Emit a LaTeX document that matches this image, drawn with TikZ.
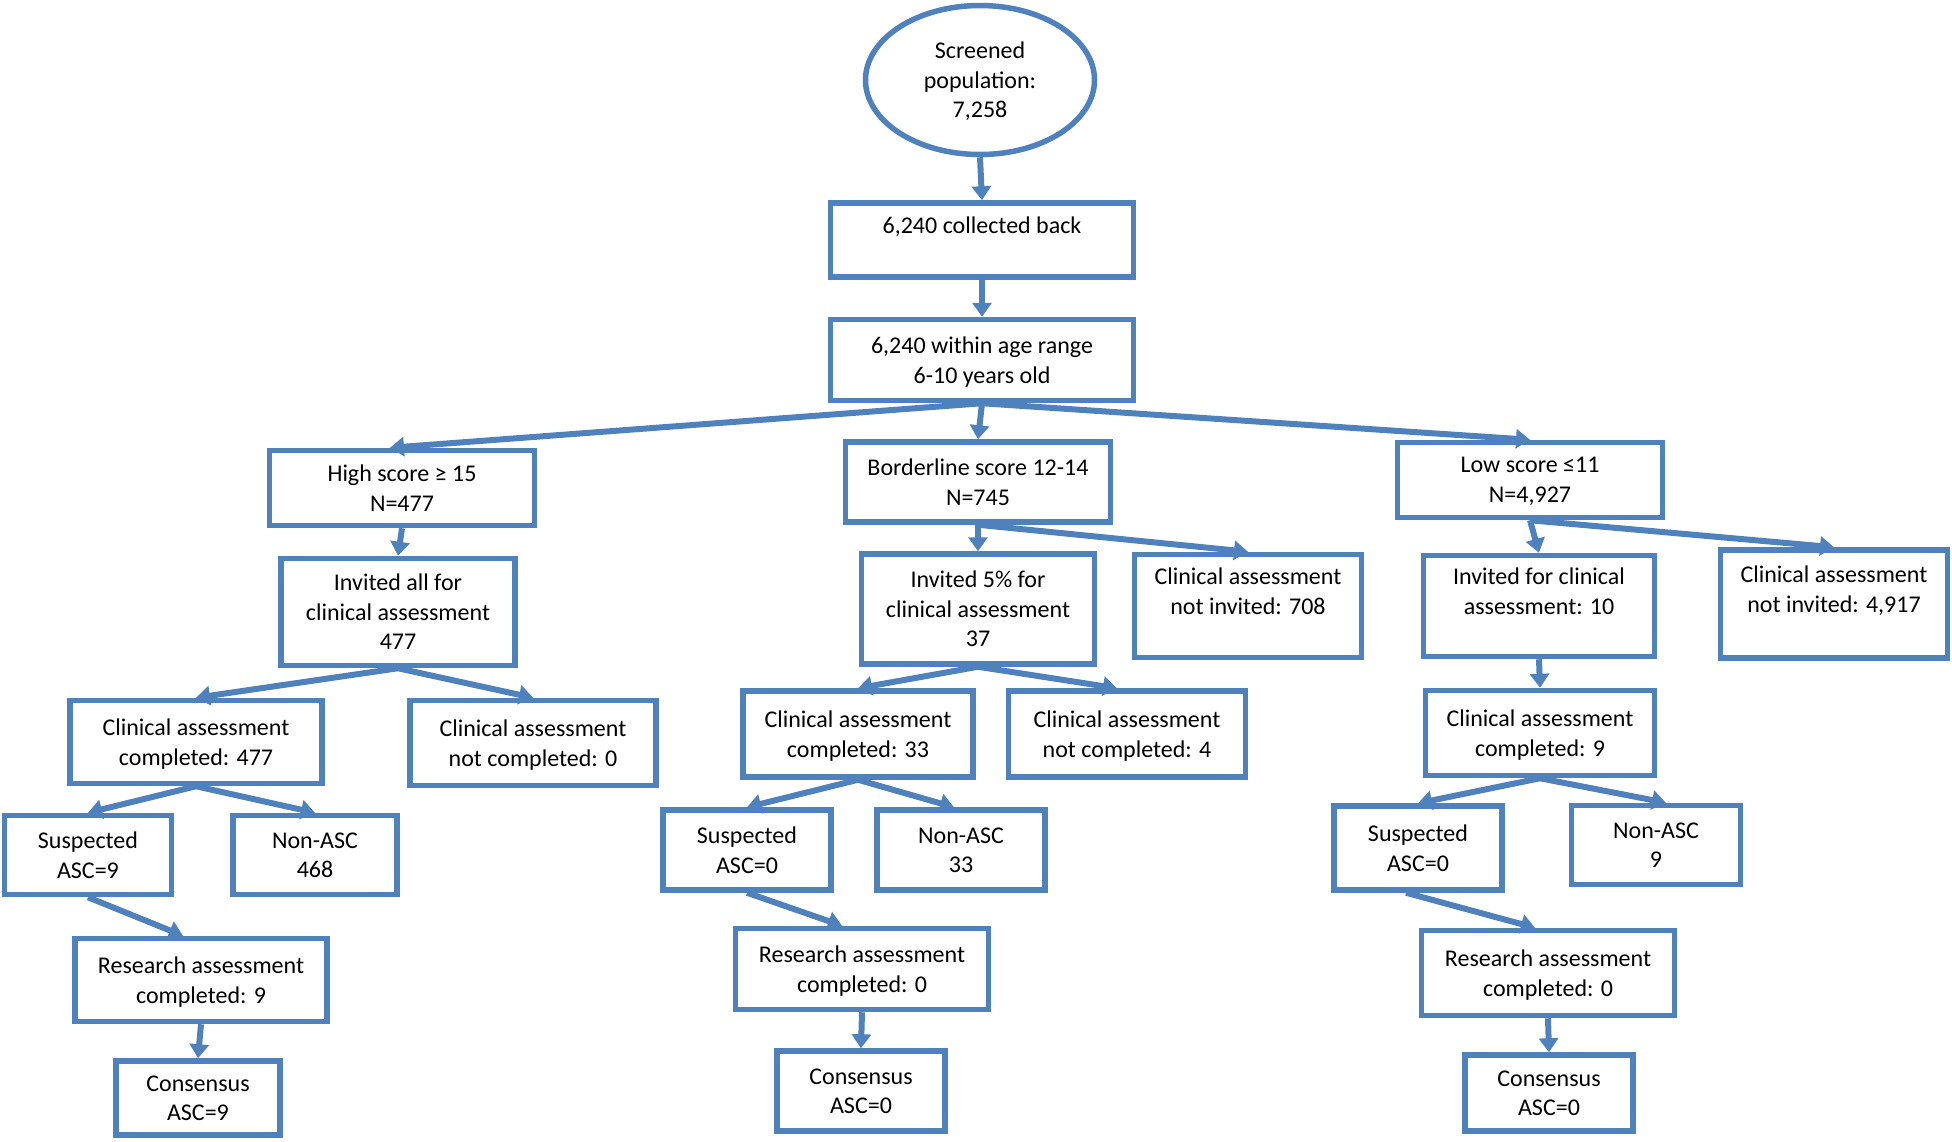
\documentclass[tikz,border=0pt]{standalone}
\usepackage{fontspec}
\setmainfont{Carlito}
\usetikzlibrary{arrows.meta,shapes.geometric}
\definecolor{flowblue}{RGB}{79,129,189}

\begin{document}
\begin{tikzpicture}[x=1pt,y=-1pt,
  box/.style={draw=flowblue,line width=5.5pt,align=center,inner sep=0pt,text depth=-7pt,
    font=\fontsize{24}{29.5}\selectfont},
  arr/.style={draw=flowblue,line width=6pt,-{Triangle[width=19pt,length=14pt]}}]
\useasboundingbox (0,0) rectangle (1952,1141);

% trunk
\node[box,ellipse,minimum width=229pt,minimum height=149pt] (screen) at (980,80) {Screened\\population:\\7,258};
\node[box,minimum width=303pt,minimum height=74pt] (collect) at (982,240) {6,240 collected back\\ \strut};
\node[box,minimum width=303pt,minimum height=81pt] (agerange) at (982,360) {6,240 within age range\\6-10 years old};

% score groups
\node[box,minimum width=265pt,minimum height=75pt] (high) at (402,488) {High score ≥ 15\\N=477};
\node[box,minimum width=265pt,minimum height=80pt] (border) at (978,482) {Borderline score 12-14\\N=745};
\node[box,minimum width=265pt,minimum height=75pt] (low) at (1530,480) {Low score ≤11\\N=4,927};

% high branch
\node[box,minimum width=234pt,minimum height=107pt] (invall) at (398,612) {Invited all for\\clinical assessment\\477};
\node[box,minimum width=252pt,minimum height=83pt] (cadoneH) at (196,742) {Clinical assessment\\completed: 477};
\node[box,minimum width=246pt,minimum height=85pt] (canotH) at (533,743) {Clinical assessment\\not completed: 0};
\node[box,minimum width=167pt,minimum height=79pt] (suspH) at (88,855) {Suspected\\ASC=9};
\node[box,minimum width=164pt,minimum height=79pt] (nonH) at (315,855) {Non-ASC\\468};
\node[box,minimum width=252pt,minimum height=83pt] (resH) at (201,980) {Research assessment\\completed: 9};
\node[box,minimum width=164pt,minimum height=74pt] (consH) at (198,1098) {Consensus\\ASC=9};

% borderline branch
\node[box,minimum width=233pt,minimum height=110pt] (invB) at (978,609) {Invited 5\% for\\clinical assessment\\37};
\node[box,minimum width=227pt,minimum height=103pt] (notinvB) at (1248,606) {Clinical assessment\\not invited: 708\\ \strut};
\node[box,minimum width=230pt,minimum height=86pt] (cadoneB) at (858,734) {Clinical assessment\\completed: 33};
\node[box,minimum width=237pt,minimum height=86pt] (canotB) at (1127,734) {Clinical assessment\\not completed: 4};
\node[box,minimum width=168pt,minimum height=80pt] (suspB) at (747,850) {Suspected\\ASC=0};
\node[box,minimum width=168pt,minimum height=80pt] (nonB) at (961,850) {Non-ASC\\33};
\node[box,minimum width=253pt,minimum height=81pt] (resB) at (862,969) {Research assessment\\completed: 0};
\node[box,minimum width=168pt,minimum height=80pt] (consB) at (861,1091) {Consensus\\ASC=0};

% low branch
\node[box,minimum width=231pt,minimum height=101pt] (invL) at (1539,606) {Invited for clinical\\assessment: 10\\ \strut};
\node[box,minimum width=227pt,minimum height=108pt] (notinvL) at (1834,604) {Clinical assessment\\not invited: 4,917\\ \strut};
\node[box,minimum width=229pt,minimum height=85pt] (cadoneL) at (1540,733) {Clinical assessment\\completed: 9};
\node[box,minimum width=168pt,minimum height=84pt] (suspL) at (1418,848) {Suspected\\ASC=0};
\node[box,minimum width=169pt,minimum height=79pt] (nonL) at (1656,845) {Non-ASC\\9};
\node[box,minimum width=253pt,minimum height=85pt] (resL) at (1548,973) {Research assessment\\completed: 0};
\node[box,minimum width=168pt,minimum height=76pt] (consL) at (1549,1093) {Consensus\\ASC=0};

% connectors
\draw[arr] (screen.south) -- (collect.north);
\draw[arr] (collect.south) -- (agerange.north);
\draw[arr] (agerange.south) -- ([xshift=-12pt]high.north);
\draw[arr] (agerange.south) -- (border.north);
\draw[arr] (agerange.south) -- (low.north);

\draw[arr] (high.south) -- (invall.north);
\draw[arr] (invall.south) -- (cadoneH.north);
\draw[arr] (invall.south) -- (canotH.north);
\draw[arr] (cadoneH.south) -- (suspH.north);
\draw[arr] (cadoneH.south) -- (nonH.north);
\draw[arr] (suspH.south) -- ([xshift=-18pt]resH.north);
\draw[arr] (resH.south) -- (consH.north);

\draw[arr] (border.south) -- (invB.north);
\draw[arr] (border.south) -- (notinvB.north);
\draw[arr] (invB.south) -- (cadoneB.north);
\draw[arr] (invB.south) -- ([xshift=-10pt]canotB.north);
\draw[arr] (cadoneB.south) -- (suspB.north);
\draw[arr] (cadoneB.south) -- ([xshift=-7pt]nonB.north);
\draw[arr] (suspB.south) -- ([xshift=-20pt]resB.north);
\draw[arr] (resB.south) -- (consB.north);

\draw[arr] (low.south) -- (invL.north);
\draw[arr] (low.south) -- (notinvL.north);
\draw[arr] (invL.south) -- (cadoneL.north);
\draw[arr] (cadoneL.south) -- (suspL.north);
\draw[arr] (cadoneL.south) -- ([xshift=10pt]nonL.north);
\draw[arr] ([xshift=-12pt]suspL.south) -- ([xshift=-13pt]resL.north);
\draw[arr] (resL.south) -- (consL.north);
\end{tikzpicture}
\end{document}
